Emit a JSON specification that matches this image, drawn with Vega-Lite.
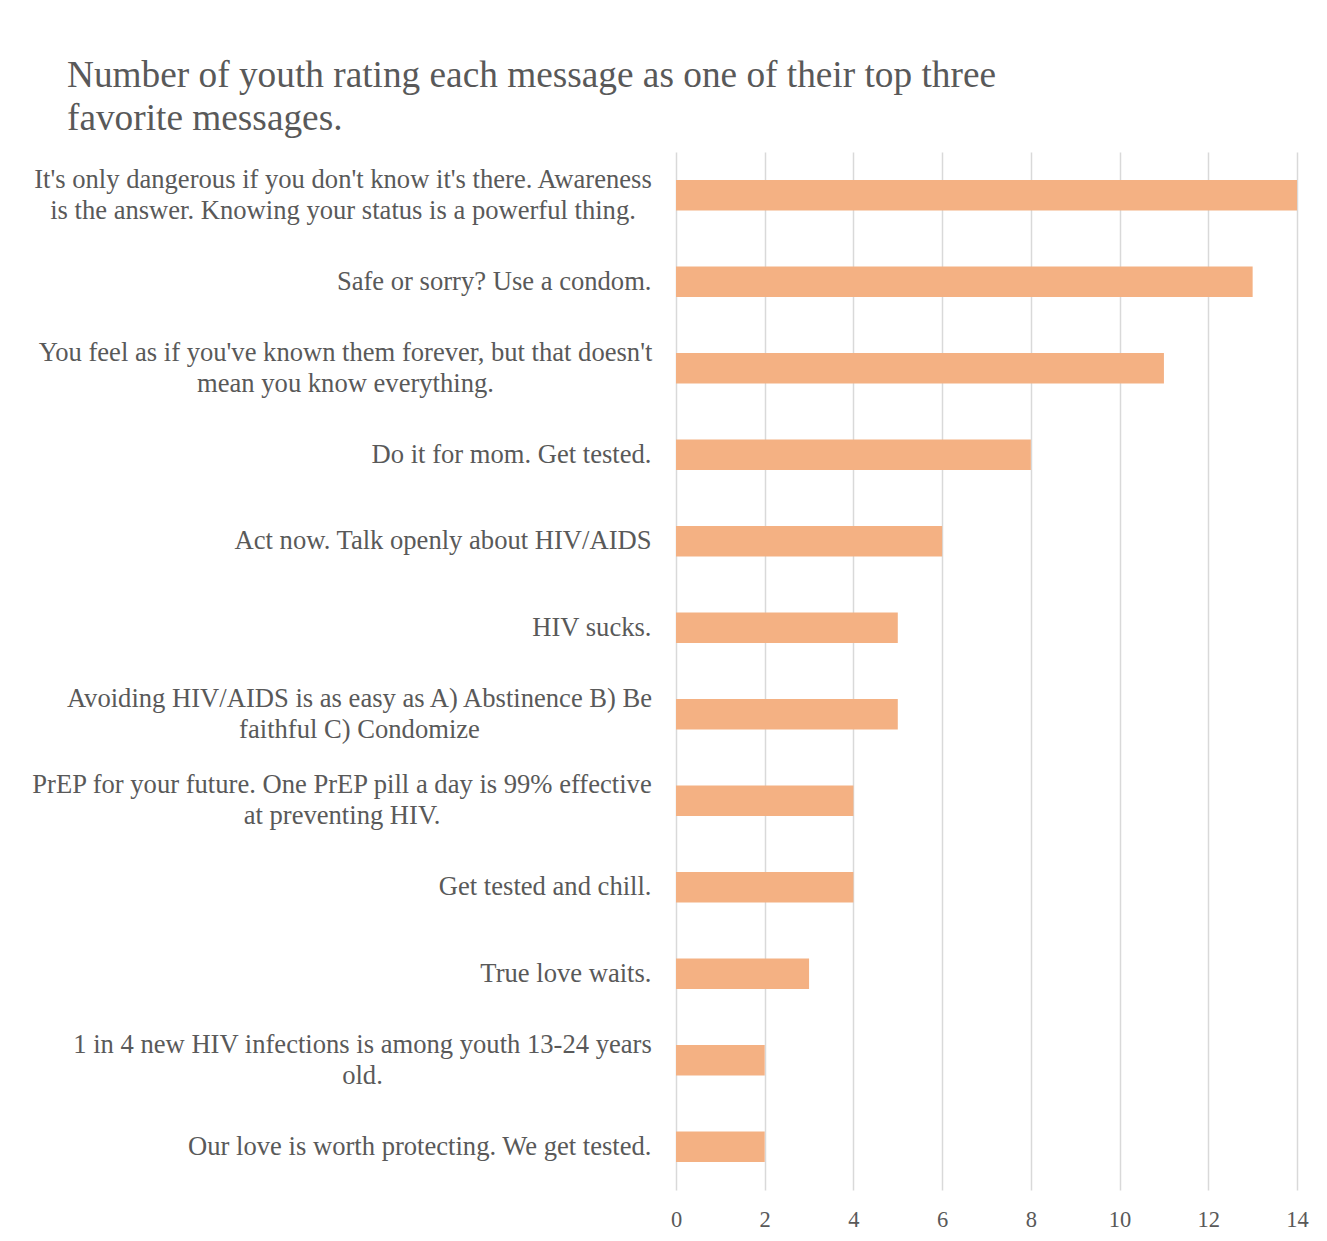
{
  "$schema": "https://vega.github.io/schema/vega-lite/v6.json",
  "autosize": {"type": "none"},
  "width": 621,
  "height": 1038,
  "padding": {"left": 676, "right": 30, "top": 152, "bottom": 51},
  "background": "white",
  "title": {
    "text": ["Number of youth rating each message as one of their top three", "favorite messages."],
    "anchor": "start",
    "frame": "group",
    "dx": -609,
    "font": "Liberation Serif",
    "fontSize": 37.3,
    "fontWeight": "normal",
    "color": "#595959",
    "lineHeight": 43,
    "offset": 14
  },
  "config": {
    "view": {"stroke": null},
    "axis": {"labelFont": "Liberation Serif", "labelColor": "#595959"}
  },
  "data": {
    "values": [
      {"message": "It's only dangerous if you don't know it's there. Awareness|is the answer. Knowing your status is a powerful thing.", "count": 14},
      {"message": "Safe or sorry? Use a condom.", "count": 13},
      {"message": "You feel as if you've known them forever, but that doesn't|mean you know everything.", "count": 11},
      {"message": "Do it for mom. Get tested.", "count": 8},
      {"message": "Act now. Talk openly about HIV/AIDS", "count": 6},
      {"message": "HIV sucks.", "count": 5},
      {"message": "Avoiding HIV/AIDS is as easy as A) Abstinence B) Be|faithful C) Condomize", "count": 5},
      {"message": "PrEP for your future. One PrEP pill a day is 99% effective|at preventing HIV.", "count": 4},
      {"message": "Get tested and chill.", "count": 4},
      {"message": "True love waits.", "count": 3},
      {"message": "1 in 4 new HIV infections is among youth 13-24 years|old.", "count": 2},
      {"message": "Our love is worth protecting. We get tested.", "count": 2}
    ]
  },
  "mark": {"type": "bar", "color": "#F4B183"},
  "encoding": {
    "y": {
      "field": "message",
      "type": "nominal",
      "sort": null,
      "scale": {"paddingInner": 0.65, "paddingOuter": 0.325},
      "axis": {
        "title": null,
        "domain": false,
        "ticks": false,
        "grid": false,
        "labelFontSize": 26.6,
        "labelLimit": 0,
        "labelLineHeight": 31,
        "labelAlign": {"condition": {"test": "indexof(datum.value, '|') >= 0", "value": "center"}, "value": "right"},
        "labelPadding": {
          "condition": [
            {"test": "indexof(datum.value, 'Awareness') >= 0", "value": 333.5},
            {"test": "indexof(datum.value, 'forever') >= 0", "value": 331},
            {"test": "indexof(datum.value, 'Abstinence') >= 0", "value": 317},
            {"test": "indexof(datum.value, 'effective') >= 0", "value": 334.5},
            {"test": "indexof(datum.value, 'infections') >= 0", "value": 314}
          ],
          "value": 25
        },
        "labelOffset": {"condition": {"test": "indexof(datum.value, '|') >= 0", "value": -15.5}, "value": 0},
        "labelExpr": "split(datum.label, '|')"
      }
    },
    "x": {
      "field": "count",
      "type": "quantitative",
      "scale": {"domain": [0, 14], "nice": false},
      "axis": {
        "title": null,
        "values": [0, 2, 4, 6, 8, 10, 12, 14],
        "domain": false,
        "ticks": false,
        "grid": true,
        "gridColor": "#d9d9d9",
        "gridWidth": 1.5,
        "labelFontSize": 22.5,
        "labelPadding": 18,
        "labelFlush": false
      }
    }
  }
}
